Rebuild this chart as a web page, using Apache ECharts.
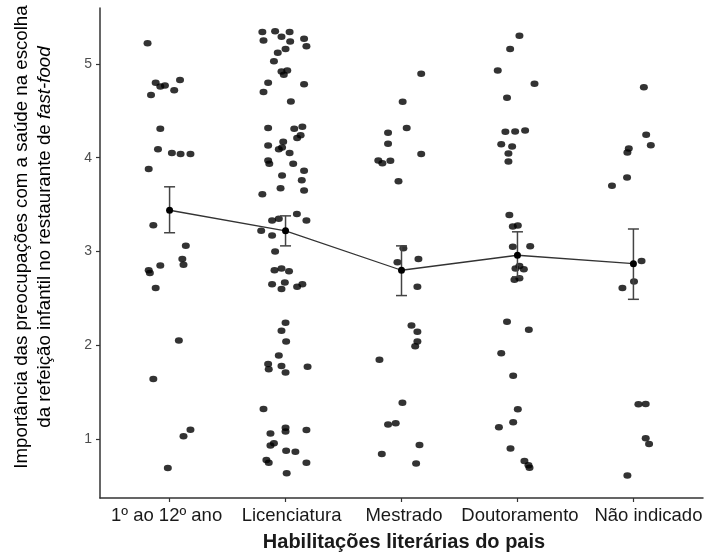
<!DOCTYPE html>
<html><head><meta charset="utf-8">
<script src="https://cdn.jsdelivr.net/npm/echarts@6/dist/echarts.min.js"></script>
<style>html,body{margin:0;padding:0;background:#fff}#c{width:710px;height:552px}</style>
</head><body><div id="c"></div>
<script>
const categories = ['1º ao 12º ano','Licenciatura','Mestrado','Doutoramento','Não indicado'];
const yTicks = [1,2,3,4,5];
// mean and error bar limits per category
const means = [3.44, 3.22, 2.80, 2.96, 2.87];
const errLow = [3.20, 3.06, 2.53, 2.73, 2.49];
const errHigh = [3.69, 3.38, 3.06, 3.21, 3.24];
// jittered raw responses: [horizontal jitter (category units), value]
const group1 = [[-0.19,5.22],[-0.12,4.80],[-0.08,4.76],[-0.04,4.77],[-0.16,4.67],[0.09,4.83],[0.04,4.72],[-0.08,4.31],[-0.10,4.09],[0.02,4.05],[0.095,4.04],[0.18,4.04],[-0.18,3.88],[-0.14,3.28],[0.14,3.06],[0.11,2.92],[0.12,2.86],[-0.08,2.85],[-0.18,2.80],[-0.17,2.77],[-0.12,2.61],[0.08,2.05],[-0.14,1.64],[0.18,1.10],[0.12,1.03],[-0.015,0.69]];
const group2 = [[-0.20,5.34],[-0.09,5.35],[0.035,5.34],[-0.035,5.29],[-0.19,5.25],[0.04,5.24],[0.16,5.27],[0.18,5.19],[0.0,5.16],[-0.067,5.12],[-0.10,5.03],[-0.035,4.92],[0.015,4.93],[-0.015,4.885],[-0.15,4.80],[-0.19,4.70],[0.16,4.785],[0.046,4.60],[-0.15,4.316],[0.075,4.31],[0.145,4.33],[0.13,4.24],[0.10,4.21],[-0.02,4.17],[-0.15,4.13],[-0.058,4.09],[-0.03,4.11],[0.035,4.05],[-0.15,3.97],[-0.14,3.935],[0.066,3.935],[0.16,3.86],[-0.03,3.81],[0.14,3.76],[-0.043,3.675],[0.16,3.65],[-0.20,3.61],[0.098,3.40],[-0.116,3.33],[-0.058,3.35],[0.18,3.33],[-0.21,3.22],[-0.116,3.17],[-0.09,3.0],[-0.095,2.80],[-0.035,2.82],[0.03,2.79],[-0.116,2.65],[-0.006,2.67],[-0.035,2.60],[0.10,2.625],[0.145,2.65],[0.0,2.24],[-0.035,2.156],[0.005,2.04],[-0.058,1.89],[-0.15,1.80],[-0.145,1.745],[-0.035,1.78],[0.0,1.71],[0.19,1.77],[-0.19,1.32],[0.0,1.12],[0.0,1.08],[-0.13,1.06],[0.18,1.096],[-0.10,0.954],[-0.13,0.93],[0.005,0.875],[0.085,0.865],[-0.165,0.776],[-0.145,0.747],[0.18,0.747],[0.01,0.634]];
const group3 = [[0.17,4.895],[0.01,4.597],[0.045,4.316],[-0.116,4.266],[-0.116,4.15],[0.17,4.04],[-0.20,3.97],[-0.165,3.94],[-0.096,3.967],[-0.026,3.75],[0.016,3.035],[-0.035,2.886],[0.146,2.92],[0.137,2.625],[0.086,2.21],[0.137,2.145],[0.137,2.04],[0.118,1.99],[-0.19,1.846],[0.008,1.387],[-0.116,1.156],[-0.05,1.167],[0.155,0.936],[-0.17,0.84],[0.126,0.74]];
const group4 = [[0.017,5.30],[-0.063,5.16],[-0.17,4.93],[0.147,4.79],[-0.09,4.64],[-0.104,4.276],[-0.02,4.28],[0.066,4.29],[-0.14,4.145],[-0.046,4.12],[-0.078,4.045],[-0.078,3.96],[-0.07,3.39],[-0.04,3.266],[0.003,3.276],[-0.04,3.05],[0.11,3.056],[0.017,2.846],[-0.017,2.82],[0.055,2.81],[-0.026,2.70],[0.017,2.715],[-0.09,2.25],[0.098,2.166],[-0.14,1.915],[-0.037,1.676],[0.003,1.317],[-0.037,1.178],[-0.16,1.125],[-0.06,0.90],[0.06,0.765],[0.095,0.72],[0.104,0.694]];
const group5 = [[0.09,4.753],[0.11,4.244],[0.15,4.134],[-0.04,4.098],[-0.052,4.055],[-0.055,3.79],[-0.185,3.70],[0.07,2.90],[0.005,2.68],[-0.095,2.61],[0.043,1.37],[0.106,1.373],[0.106,1.007],[0.135,0.947],[-0.052,0.61]];
const groups = [group1, group2, group3, group4, group5];

const scatterData = [];
groups.forEach((g, i) => g.forEach(p => scatterData.push([i + 1 + p[0], p[1]])));
const meanData = means.map((m, i) => [i + 1, m]);
const errData = means.map((m, i) => [i + 1, errLow[i], errHigh[i]]);
const catPos = categories.map((c, i) => i + 1);

const chart = echarts.init(document.getElementById('c'));
const txtFont = 'Liberation Sans, Arial, sans-serif';
// small per-label nudges (px of left/right padding) to mimic reference label placement
const labelRich = {
  c1: { padding: [0, 6, 0, 0] },
  c2: { padding: [0, 0, 0, 12] },
  c3: { padding: [0, 0, 0, 5] },
  c4: { padding: [0, 0, 0, 5] },
  c5: { padding: [0, 0, 0, 30] }
};
chart.setOption({
  animation: false,
  grid: { left: 100, right: 7, top: 8, bottom: 54, outerBoundsMode: 'none', containLabel: false },
  graphic: [{
    type: 'text', x: 33.5, y: 237, rotation: Math.PI / 2,
    style: {
      text: 'Importância das preocupações com a saúde na escolha\nda refeição infantil no restaurante de {i|fast-food}',
      fontFamily: txtFont, fontSize: 18.7, fill: '#000', lineHeight: 23,
      align: 'center', verticalAlign: 'middle',
      rich: { i: { fontStyle: 'italic', fontFamily: txtFont, fontSize: 18.7, fill: '#000', lineHeight: 23 } }
    }
  }],
  xAxis: {
    type: 'value', min: 0.4, max: 5.6,
    name: 'Habilitações literárias do pais', nameLocation: 'middle', nameGap: 34,
    nameTextStyle: { fontFamily: txtFont, fontSize: 20, fontWeight: 'bold', color: '#1a1a1a', padding: [0, 0, 0, 5] },
    axisLine: { show: true, lineStyle: { color: '#333', width: 1.5 } },
    axisTick: { show: true, length: 4, customValues: catPos, lineStyle: { color: '#333', width: 1.2 } },
    axisLabel: { customValues: catPos, formatter: v => { const k = Math.round(v); return '{c' + k + '|' + categories[k - 1] + '}'; },
      rich: labelRich, fontFamily: txtFont, fontSize: 18.5, color: '#1a1a1a', margin: 8 },
    splitLine: { show: false }
  },
  yAxis: {
    type: 'value', min: 0.371, max: 5.597,
    axisLine: { show: true, lineStyle: { color: '#333', width: 1.5 } },
    axisTick: { show: true, length: 4, customValues: yTicks, lineStyle: { color: '#333', width: 1.2 } },
    axisLabel: { customValues: yTicks, fontFamily: txtFont, fontSize: 14, color: '#4d4d4d', margin: 8 },
    splitLine: { show: false }
  },
  series: [
    { type: 'scatter', data: scatterData, symbol: 'circle', symbolSize: [8, 6.5], itemStyle: { color: '#000' }, z: 2 },
    { type: 'custom', data: errData, z: 3,
      renderItem: (params, api) => {
        const x = api.value(0);
        const lo = api.coord([x, api.value(1)]);
        const hi = api.coord([x, api.value(2)]);
        const w = 5.5;
        const st = { stroke: '#444', lineWidth: 1.5 };
        return { type: 'group', children: [
          { type: 'line', shape: { x1: lo[0], y1: lo[1], x2: hi[0], y2: hi[1] }, style: st },
          { type: 'line', shape: { x1: lo[0] - w, y1: lo[1], x2: lo[0] + w, y2: lo[1] }, style: st },
          { type: 'line', shape: { x1: hi[0] - w, y1: hi[1], x2: hi[0] + w, y2: hi[1] }, style: st }
        ]};
      } },
    { type: 'line', data: meanData, z: 4, symbol: 'circle', symbolSize: 7, showSymbol: true,
      lineStyle: { color: '#333', width: 1.3 }, itemStyle: { color: '#000' } }
  ]
});
</script></body></html>
